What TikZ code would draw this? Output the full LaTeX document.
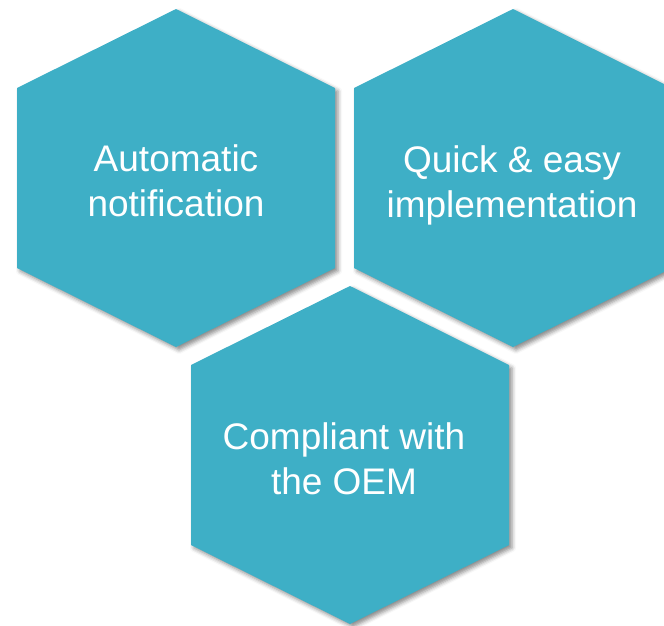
\documentclass[tikz,border=0pt]{standalone}
\usepackage{fontspec}
\setmainfont{Liberation Sans}
\usetikzlibrary{shadows.blur}
\definecolor{hexblue}{RGB}{62,175,198}
\tikzset{
  hexa/.style={fill=hexblue,blur shadow={shadow xshift=3pt,shadow yshift=-3pt,shadow blur radius=4pt,shadow opacity=45}},
  hextext/.style={text=white,align=center,inner sep=0pt,font=\fontsize{37}{45}\selectfont}
}
\begin{document}
\begin{tikzpicture}[x=1pt,y=-1pt]
\useasboundingbox (0,0) rectangle (664,625);
\foreach \cx/\cy in {176/178,513/178,350/455}
  \path[hexa] (\cx,\cy-169) -- (\cx+159,\cy-90) -- (\cx+159,\cy+90) -- (\cx,\cy+169)
    -- (\cx-159,\cy+90) -- (\cx-159,\cy-90) -- cycle;
\node[hextext] (auto) at (176,181) {Automatic\\notification};
\node[hextext] (quick) at (512,185) {Quick \& easy\\implementation};
\node[hextext] (oem) at (344,459) {Compliant with\\the OEM};
\end{tikzpicture}
\end{document}
